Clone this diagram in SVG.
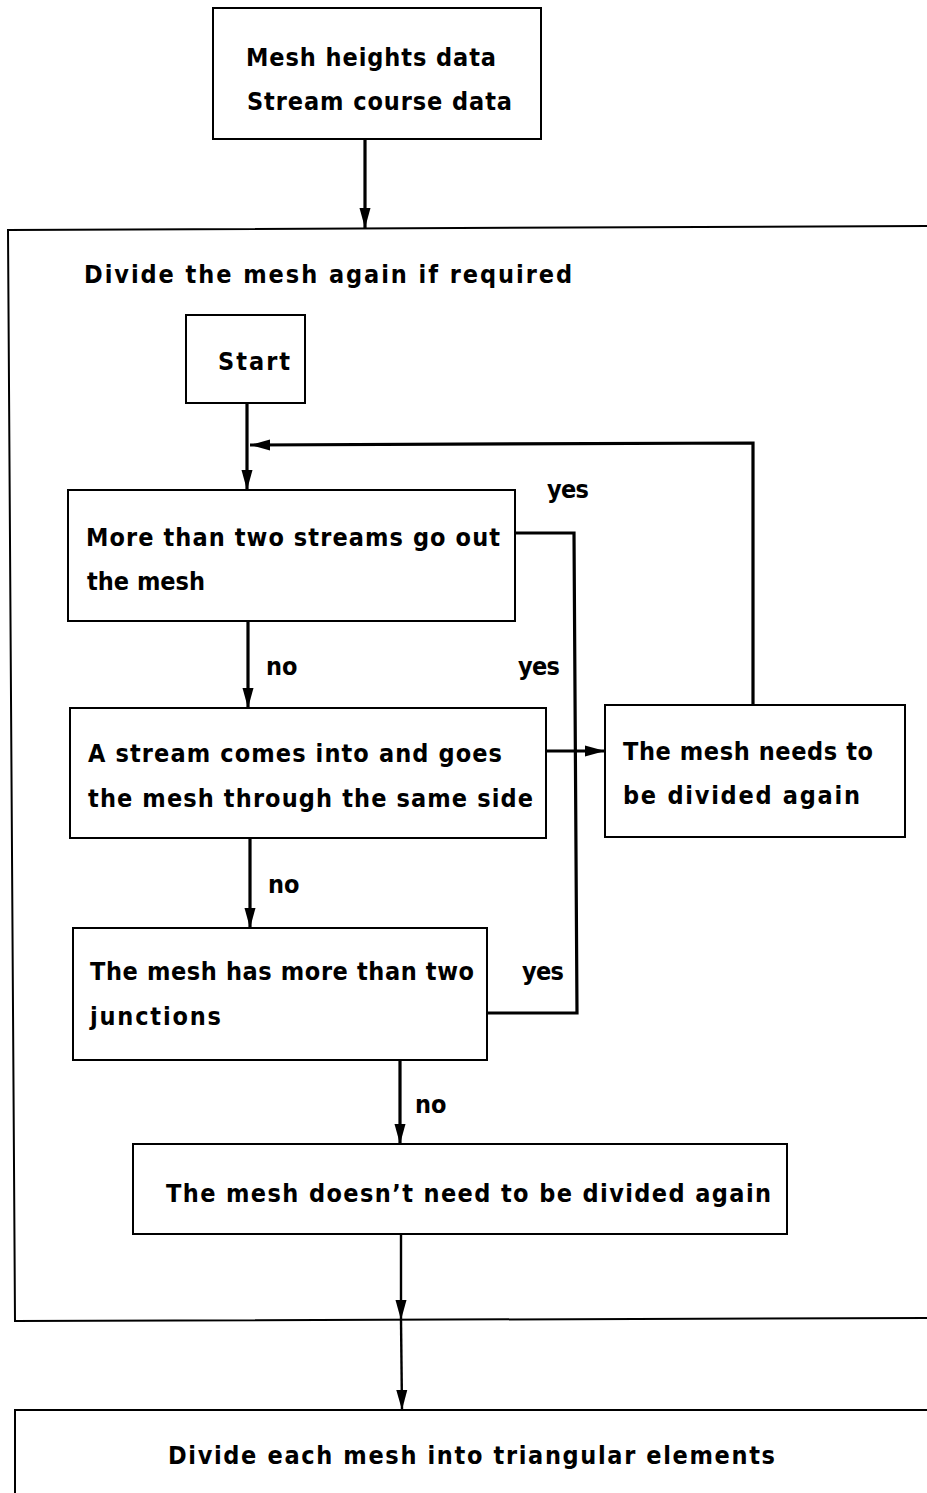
<svg xmlns="http://www.w3.org/2000/svg" width="927" height="1493" viewBox="0 0 927 1493">
<defs>
<style>
.box{fill:none;stroke:#000;stroke-width:2}
.con{fill:none;stroke:#000;stroke-width:3.2}
.thin{fill:none;stroke:#000;stroke-width:2.4}
text{font-family:"DejaVu Sans Condensed","DejaVu Sans","Liberation Sans",sans-serif;font-stretch:condensed;font-weight:bold;font-size:25px;fill:#000}
</style>
<marker id="ah" markerUnits="userSpaceOnUse" markerWidth="20" markerHeight="12" refX="20" refY="6" orient="auto">
<path d="M0,0.5 L20,6 L0,11.5 z" fill="#000"/>
</marker>
</defs>
<rect width="927" height="1493" fill="#fff"/>
<g id="container">
<path class="box" d="M927,226 L8,230 L15,1321 L927,1318"/>
<text x="84" y="283" textLength="488" lengthAdjust="spacing">Divide the mesh again if required</text>
</g>
<g id="input">
<rect class="box" x="213" y="8" width="328" height="131"/>
<text x="246" y="66" textLength="250" lengthAdjust="spacing">Mesh heights data</text>
<text x="247" y="110" textLength="265" lengthAdjust="spacing">Stream course data</text>
</g>
<g id="start">
<rect class="box" x="186" y="315" width="119" height="88"/>
<text x="218" y="370" textLength="72" lengthAdjust="spacing">Start</text>
</g>
<g id="q1">
<rect class="box" x="68" y="490" width="447" height="131"/>
<text x="86" y="546" textLength="414" lengthAdjust="spacing">More than two streams go out</text>
<text x="87" y="590" textLength="118" lengthAdjust="spacing">the mesh</text>
</g>
<g id="q2">
<rect class="box" x="70" y="708" width="476" height="130"/>
<text x="88" y="762" textLength="414" lengthAdjust="spacing">A stream comes into and goes</text>
<text x="88" y="807" textLength="445" lengthAdjust="spacing">the mesh through the same side</text>
</g>
<g id="needs">
<rect class="box" x="605" y="705" width="300" height="132"/>
<text x="623" y="760" textLength="250" lengthAdjust="spacing">The mesh needs to</text>
<text x="623" y="804" textLength="237" lengthAdjust="spacing">be divided again</text>
</g>
<g id="q3">
<rect class="box" x="73" y="928" width="414" height="132"/>
<text x="90" y="980" textLength="384" lengthAdjust="spacing">The mesh has more than two</text>
<text x="90" y="1025" textLength="131" lengthAdjust="spacing">junctions</text>
</g>
<g id="noneed">
<rect class="box" x="133" y="1144" width="654" height="90"/>
<text x="166" y="1202" textLength="605" lengthAdjust="spacing">The mesh doesn’t need to be divided again</text>
</g>
<g id="triangulate">
<path class="box" d="M927,1410 L15,1410 L15,1493"/>
<text x="168" y="1464" textLength="607" lengthAdjust="spacing">Divide each mesh into triangular elements</text>
</g>
<g id="connectors">
<line class="con" x1="365" y1="139" x2="365" y2="228" marker-end="url(#ah)"/>
<line class="con" x1="247" y1="403" x2="247" y2="490" marker-end="url(#ah)"/>
<path class="con" d="M753,706 L753,443 L250,445" marker-end="url(#ah)"/>
<line class="con" x1="248" y1="621" x2="248" y2="708" marker-end="url(#ah)"/>
<path class="con" d="M515,533 L574,533 L577,1013 L487,1013"/>
<line class="con" x1="546" y1="751" x2="605" y2="751" marker-end="url(#ah)"/>
<line class="con" x1="250" y1="838" x2="250" y2="928" marker-end="url(#ah)"/>
<line class="con" x1="400" y1="1060" x2="400" y2="1144" marker-end="url(#ah)"/>
<line class="thin" x1="401" y1="1234" x2="401" y2="1320" marker-end="url(#ah)"/>
<line class="thin" x1="401" y1="1320" x2="402" y2="1410" marker-end="url(#ah)"/>
<text x="547" y="498" textLength="42" lengthAdjust="spacing">yes</text>
<text x="266" y="675">no</text>
<text x="518" y="675" textLength="42" lengthAdjust="spacing">yes</text>
<text x="268" y="893">no</text>
<text x="522" y="980" textLength="42" lengthAdjust="spacing">yes</text>
<text x="415" y="1113">no</text>
</g>
</svg>
